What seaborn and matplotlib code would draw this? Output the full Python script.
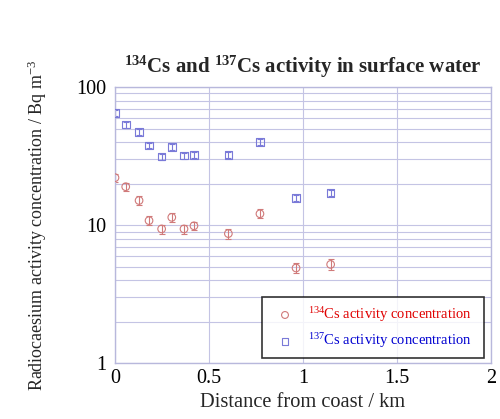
import seaborn as sns
import matplotlib
matplotlib.use('Agg')
import matplotlib.pyplot as plt
import pandas as pd

# distance from coast (km)
dist_134 = [0.0, 0.057, 0.128, 0.181, 0.248, 0.302, 0.367, 0.42, 0.603, 0.771, 0.963, 1.147]
cs134 = [22.1, 19.0, 15.1, 10.8, 9.4, 11.4, 9.4, 9.9, 8.7, 12.1, 4.9, 5.2]
err134 = [1.4, 1.2, 1.1, 0.8, 0.7, 0.8, 0.7, 0.7, 0.7, 0.9, 0.4, 0.45]

dist_137 = [0.0, 0.057, 0.128, 0.181, 0.248, 0.302, 0.367, 0.42, 0.603, 0.771, 0.963, 1.147]
cs137 = [64.8, 53.5, 47.4, 37.8, 31.4, 36.9, 31.9, 32.3, 32.1, 39.9, 15.8, 17.1]
err137 = [3.0, 2.5, 2.2, 1.8, 1.6, 1.8, 1.6, 1.6, 1.6, 2.0, 0.8, 0.9]

x_ticks = [0, 0.5, 1, 1.5, 2]
x_ticklabels = ['0', '0.5', '1', '1.5', '2']

sns.set_theme(style='white')
plt.rcParams['font.family'] = ['Liberation Serif', 'DejaVu Serif']
plt.rcParams['mathtext.fontset'] = 'custom'
plt.rcParams['mathtext.rm'] = 'Liberation Serif'
plt.rcParams['mathtext.bf'] = 'Liberation Serif:bold'
plt.rcParams['mathtext.default'] = 'regular'

red = '#d07a7a'
blue = '#7a7ad8'
gridc = '#c4c4e4'

df134 = pd.DataFrame({'dist': dist_134, 'val': cs134})
df137 = pd.DataFrame({'dist': dist_137, 'val': cs137})

fig = plt.figure(figsize=(5, 4.19), dpi=100)
ax = fig.add_axes([0.23, 0.133, 0.752, 0.659])
ax.set_yscale('log')

ax.errorbar(dist_134, cs134, yerr=err134, fmt='none', ecolor=red, elinewidth=0.8, capsize=2.5, capthick=0.8)
ax.errorbar(dist_137, cs137, yerr=err137, fmt='none', ecolor=blue, elinewidth=0.8, capsize=2.0, capthick=0.8)
sns.scatterplot(data=df134, x='dist', y='val', ax=ax, marker='o', s=30, facecolor='none',
                edgecolor=red, linewidth=0.8, label=r'$^{134}$Cs activity concentration', zorder=3)
sns.scatterplot(data=df137, x='dist', y='val', ax=ax, marker='s', s=30, facecolor='none',
                edgecolor=blue, linewidth=0.8, label=r'$^{137}$Cs activity concentration', zorder=3)

ax.set_xlim(0, 2)
ax.set_ylim(1, 100)
ax.set_xticks(x_ticks)
ax.set_xticklabels(x_ticklabels)
ax.set_yticks([1, 10, 100])
ax.set_yticklabels(['1', '10', '100'])
ax.tick_params(axis='both', which='both', length=0, labelsize=14.5, colors='black')
ax.tick_params(axis='y', pad=6)
ax.tick_params(axis='x', pad=4)
ax.grid(True, which='major', axis='x', color=gridc, linewidth=0.8)
ax.grid(True, which='both', axis='y', color=gridc, linewidth=0.8)
for s in ax.spines.values():
    s.set_color('#b8b8dc')
    s.set_linewidth(1.0)

ax.set_xlabel('Distance from coast / km', fontsize=14.7, labelpad=4)
ax.set_ylabel(r'Radiocaesium activity concentration / Bq m$^{-3}$', fontsize=13, labelpad=20)
ax.set_title(r'$^{134}$Cs and $^{137}$Cs activity in surface water', fontsize=15, fontweight='bold', pad=10)

leg = ax.legend(loc='lower left', bbox_to_anchor=(0.392, 0.019, 0.59, 0.214), mode='expand',
                frameon=True, fancybox=False, fontsize=10.5, handletextpad=0.6, borderaxespad=0,
                labelspacing=0.5, borderpad=0.55, markerscale=0.9)
leg.get_frame().set_edgecolor('black')
leg.get_frame().set_linewidth(1.2)
texts = leg.get_texts()
texts[0].set_color('#e00000')
texts[1].set_color('#0000d0')

fig.savefig('out.png', dpi=100)
